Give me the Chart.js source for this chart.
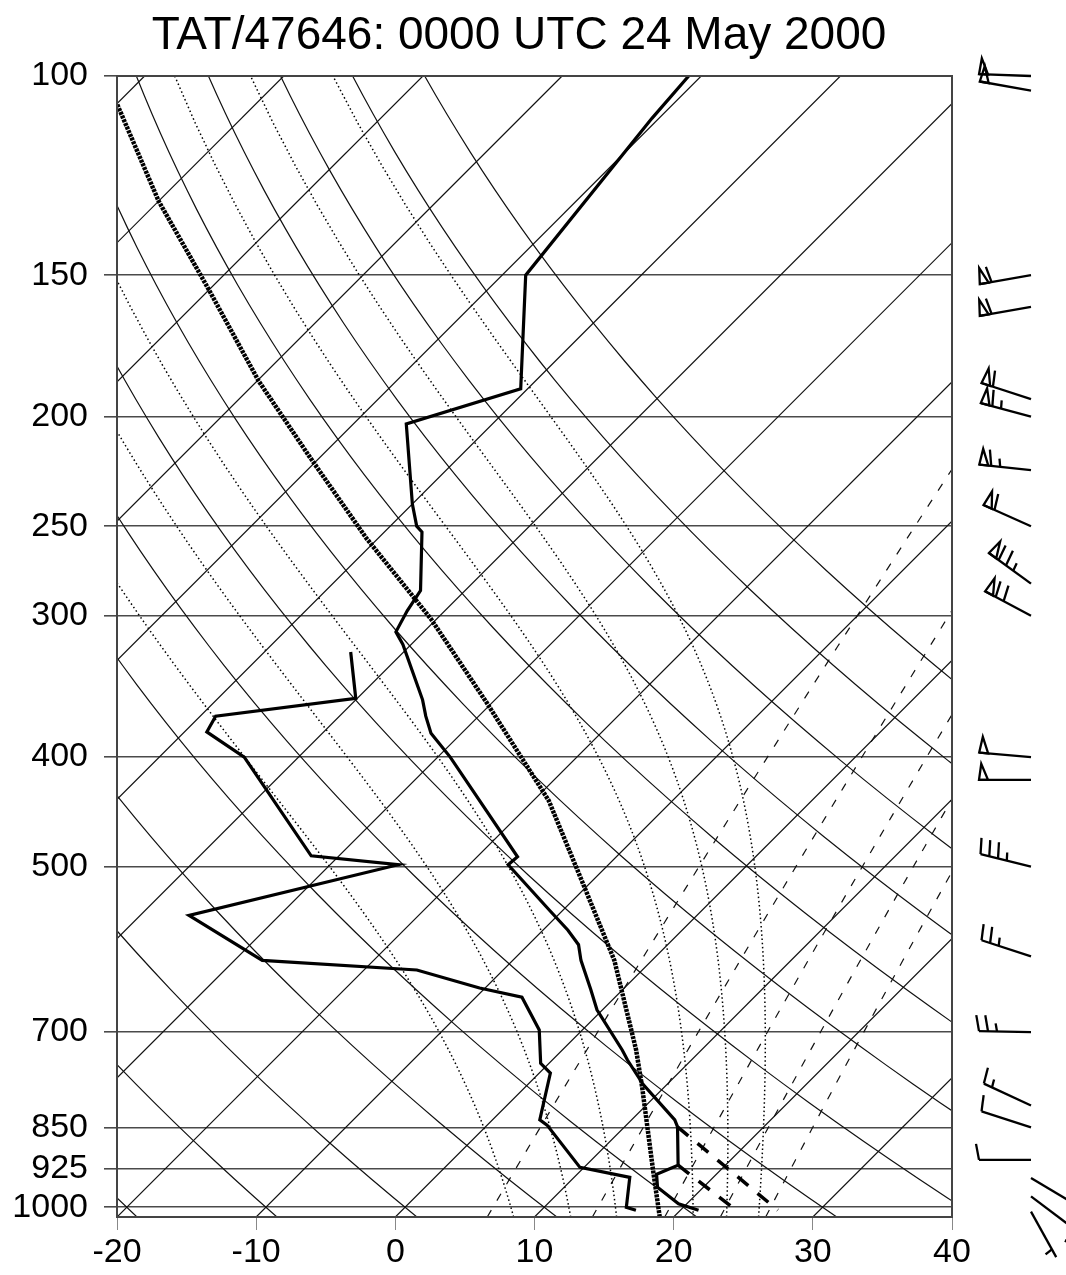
<!DOCTYPE html>
<html>
<head>
<meta charset="utf-8">
<title>TAT/47646 skew-T</title>
<script src="https://cdn.jsdelivr.net/npm/chart.js@4.4.0/dist/chart.umd.min.js"></script>
<style>
  html, body { margin: 0; padding: 0; background: #fff; }
</style>
</head>
<body>
<canvas id="skewt" width="1066" height="1275"></canvas>
<script>
// sounding: pressure (hPa) and temperature (C)
const tempP = [100, 109, 150, 189, 203, 239, 250, 253, 285, 297, 310, 318, 356, 368, 381, 400, 490, 498, 546, 569, 586, 605, 642, 669, 726, 741, 779, 837, 849, 918, 935, 960, 993, 1006];
const tempT = [-60.9, -60.5, -58.3, -50.5, -56.2, -50.0, -48.1, -47.3, -43.2, -42.7, -42.0, -40.6, -35.2, -33.8, -32.2, -29.1, -17.1, -17.2, -11.0, -8.2, -6.4, -5.1, -2.3, -0.4, 4.3, 5.4, 8.3, 13.1, 13.8, 16.6, 15.7, 16.7, 19.4, 21.3];

const dewP = [323, 355, 368, 380, 400, 489, 498, 552, 605, 617, 640, 652, 697, 746, 761, 837, 846, 922, 941, 1000, 1006];
const dewT = [-43.8, -40.1, -48.9, -48.4, -43.9, -32.0, -25.1, -36.5, -28.0, -16.2, -10.4, -6.7, -3.1, -0.6, 0.8, 3.4, 4.3, 9.7, 14.0, 15.9, 16.8];

// thick dotted curve
const parcelP = [106, 129, 154, 186, 217, 256, 302, 358, 437, 512, 605, 726, 783, 933, 1020];
const parcelT = [-99.9, -90.0, -80.2, -69.9, -60.8, -50.9, -40.4, -30.4, -18.9, -11.0, -2.7, 5.3, 8.4, 15.4, 19.0];

// thick dashed lines from 850 and 925 down to the surface
const dropP = [[849, 1006], [918, 1006]];
const dropT = [[13.8, 27.0], [16.6, 24.0]];

// winds: pressure, direction (deg), speed (kt)
const windP = [100, 103, 150, 160, 193, 200, 223, 250, 281, 300, 400, 419, 500, 600, 700, 813, 850, 908, 942, 978, 1009];
const windDir = [272, 280, 260, 260, 288, 285, 276, 294, 306, 298, 275, 270, 284, 288, 271, 295, 288, 270, 121, 127, 151];
const windKt = [50, 50, 60, 60, 60, 65, 65, 60, 75, 70, 50, 50, 35, 25, 25, 15, 10, 10, 10, 10, 5];

const pressureTicks = [100, 150, 200, 250, 300, 400, 500, 700, 850, 925, 1000];
const tempTicks = [-20, -10, 0, 10, 20, 30, 40];

// diagram background
const isotherms = [-100, -90, -80, -70, -60, -50, -40, -30, -20, -10, 0, 10, 20, 30, 40];
const dryThetas = [253.15, 263.15, 273.15, 283.15, 293.15, 303.15, 313.15, 323.15, 333.15, 343.15, 353.15, 363.15, 373.15];
const moistStartT = [8.5, 12.6, 15.9, 21.4, 23.8, 26.1];
const mixRatios = [6, 10, 14, 18, 22];

const P_BOT = 1020;
const P_TOP = 100;
const SKEW = 35.3;
const FONT = '"Liberation Sans", Arial, sans-serif';

function skewX(t, p) {
    return t + SKEW * Math.log(P_BOT / p);
}

function profile(ps, ts) {
    return ps.map((p, i) => ({ x: skewX(ts[i], p), y: p }));
}

function logLevels(n) {
    const out = [];
    for (let i = 0; i <= n; i++) {
        out.push(P_BOT * Math.pow(P_TOP / P_BOT, i / n));
    }
    return out;
}

function satVap(tc) {
    return 6.112 * Math.exp(17.67 * tc / (tc + 243.5));
}

function moistLapse(tc, p) {
    const tk = tc + 273.15;
    const es = satVap(tc);
    const rs = 0.622 * es / (p - es);
    const num = 287.04 * tk + 2.501e6 * rs;
    const den = 1005.7 + (2.501e6 * 2.501e6 * rs * 0.622) / (287.04 * tk * tk);
    return num / (den * p);
}

function moistLine(t0) {
    let t = t0, p = P_BOT;
    const dp = -2;
    const pts = [{ x: skewX(t, p), y: p }];
    let n = 0;
    while (p > P_TOP + 0.01) {
        const k1 = moistLapse(t, p);
        const k2 = moistLapse(t + k1 * dp / 2, p + dp / 2);
        t += k2 * dp;
        p += dp;
        n++;
        if (n % 5 === 0 || p <= P_TOP + 0.01) pts.push({ x: skewX(t, p), y: p });
    }
    return pts;
}

function mixLine(w) {
    return logLevels(40).filter(p => p >= 150).map(p => {
        const e = w * p / (622 + w);
        const l = Math.log(e / 6.112);
        const td = 243.5 * l / (17.67 - l);
        return { x: skewX(td, p), y: p };
    });
}

const datasets = [];

function addLine(data, style) {
    datasets.push(Object.assign({
        data: data,
        showLine: true,
        pointRadius: 0,
        borderColor: '#111',
        borderWidth: 1.2,
        fill: false,
        order: 5
    }, style));
}

// data on top
addLine(profile(tempP, tempT), { borderColor: '#000', borderWidth: 3.2, order: 0 });
addLine(profile(dewP, dewT), { borderColor: '#000', borderWidth: 3.2, order: 0 });
addLine(profile(parcelP, parcelT), { borderColor: '#000', borderWidth: 4.5, borderDash: [3, 1], order: 0 });
dropP.forEach((ps, i) => {
    addLine(profile(ps, dropT[i]), { borderColor: '#000', borderWidth: 3.5, borderDash: [14, 12], order: 0 });
});

isotherms.forEach(t => {
    addLine([{ x: skewX(t, P_BOT), y: P_BOT }, { x: skewX(t, P_TOP), y: P_TOP }], {});
});
dryThetas.forEach(th => {
    addLine(logLevels(60).map(p => ({ x: skewX(th * Math.pow(p / 1000, 0.2857) - 273.15, p), y: p })), {});
});
moistStartT.forEach(t0 => {
    addLine(moistLine(t0), { borderColor: '#000', borderWidth: 1.5, borderDash: [1.5, 2.7] });
});
mixRatios.forEach(w => {
    addLine(mixLine(w), { borderColor: '#111', borderWidth: 1.2, borderDash: [8, 11] });
});

function drawBarb(ctx, x0, y0, dir, kt) {
    const rad = dir * Math.PI / 180;
    const ux = Math.sin(rad), uy = -Math.cos(rad);
    const px = -uy, py = ux;
    const L = 52, len = 16, gap = 9, flagW = 9;
    const tx = x0 + ux * L, ty = y0 + uy * L;
    ctx.beginPath();
    ctx.moveTo(x0, y0);
    ctx.lineTo(tx, ty);
    ctx.stroke();
    let s = 0;
    let left = Math.round(kt / 5) * 5;
    while (left >= 50) {
        const ax = tx - ux * s, ay = ty - uy * s;
        const bx = tx - ux * (s + flagW), by = ty - uy * (s + flagW);
        const cx = tx - ux * (s + flagW * 0.25) + px * len, cy = ty - uy * (s + flagW * 0.25) + py * len;
        ctx.beginPath();
        ctx.moveTo(ax, ay);
        ctx.lineTo(cx, cy);
        ctx.lineTo(bx, by);
        ctx.closePath();
        ctx.stroke();
        s += flagW + 3;
        left -= 50;
    }
    while (left >= 10) {
        const ax = tx - ux * s, ay = ty - uy * s;
        ctx.beginPath();
        ctx.moveTo(ax, ay);
        ctx.lineTo(ax + px * len + ux * 3, ay + py * len + uy * 3);
        ctx.stroke();
        s += gap;
        left -= 10;
    }
    if (left >= 5) {
        if (s === 0) s = gap;
        const ax = tx - ux * s, ay = ty - uy * s;
        ctx.beginPath();
        ctx.moveTo(ax, ay);
        ctx.lineTo(ax + px * len * 0.5 + ux * 1.5, ay + py * len * 0.5 + uy * 1.5);
        ctx.stroke();
    }
}

const decor = {
    id: 'decor',
    afterDraw(chart) {
        const ctx = chart.ctx;
        const a = chart.chartArea;
        const y = chart.scales.y;
        ctx.save();
        ctx.strokeStyle = '#444';
        ctx.lineWidth = 2;
        ctx.strokeRect(a.left, a.top, a.right - a.left, a.bottom - a.top);

        ctx.fillStyle = '#000';
        ctx.font = '46px ' + FONT;
        ctx.textAlign = 'center';
        ctx.textBaseline = 'alphabetic';
        ctx.fillText('TAT/47646: 0000 UTC 24 May 2000', 519, 49);

        ctx.strokeStyle = '#000';
        ctx.lineWidth = 2.3;
        ctx.lineJoin = 'miter';
        windP.forEach((p, i) => {
            drawBarb(ctx, 1031, y.getPixelForValue(p), windDir[i], windKt[i]);
        });
        ctx.restore();
    }
};

new Chart(document.getElementById('skewt'), {
    type: 'scatter',
    data: { datasets: datasets },
    options: {
        responsive: false,
        animation: false,
        events: [],
        layout: { padding: { top: 76, right: 114, left: 0, bottom: 0 } },
        elements: { point: { radius: 0 }, line: { tension: 0 } },
        plugins: {
            legend: { display: false },
            tooltip: { enabled: false },
            title: { display: false }
        },
        scales: {
            x: {
                type: 'linear',
                min: -20,
                max: 40,
                afterBuildTicks: axis => { axis.ticks = tempTicks.map(v => ({ value: v })); },
                ticks: { color: '#000', font: { family: FONT, size: 34 }, padding: 2, maxRotation: 0 },
                grid: { drawOnChartArea: false, tickLength: 13, color: '#888', lineWidth: 1 },
                border: { color: '#444', width: 2 },
                afterFit: s => { s.height = 58; }
            },
            y: {
                type: 'logarithmic',
                min: P_TOP,
                max: P_BOT,
                reverse: true,
                afterBuildTicks: axis => { axis.ticks = pressureTicks.map(v => ({ value: v })); },
                ticks: { color: '#000', font: { family: FONT, size: 34 }, padding: 16, autoSkip: false, callback: v => String(v) },
                grid: { color: '#4a4a4a', lineWidth: 1.6, tickLength: 13 },
                border: { color: '#444', width: 2 },
                afterFit: s => { s.width = 117; }
            }
        }
    },
    plugins: [decor]
});
</script>
</body>
</html>
